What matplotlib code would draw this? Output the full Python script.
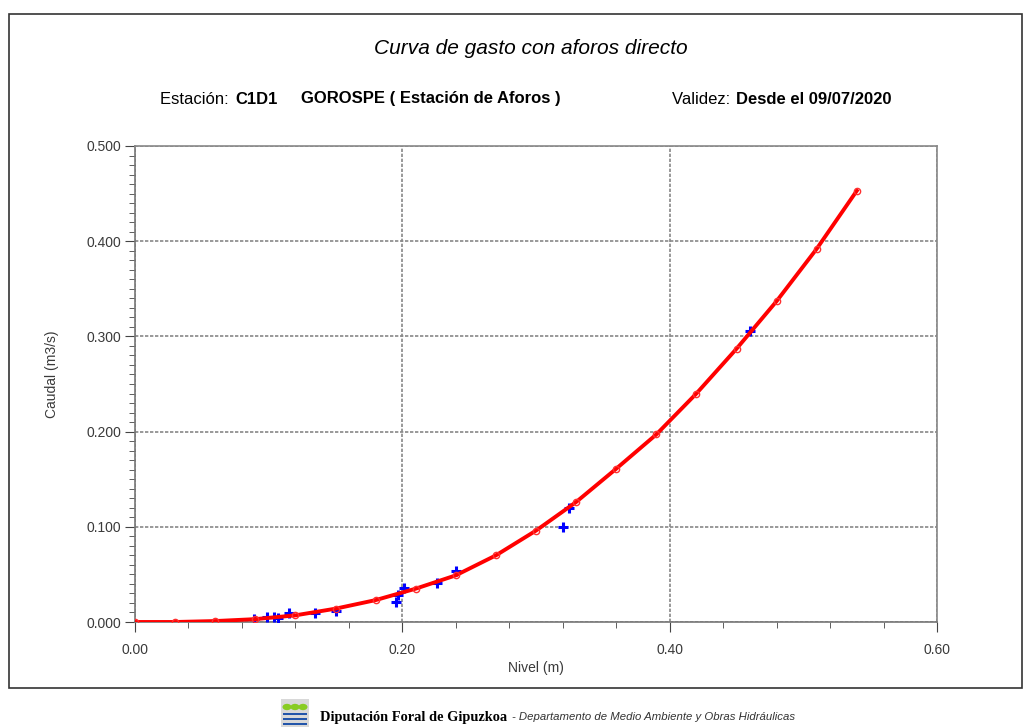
import matplotlib
matplotlib.use("Agg")
import matplotlib.pyplot as plt
from matplotlib.patches import Rectangle, Circle
from matplotlib.ticker import MultipleLocator, FormatStrFormatter

plt.rcParams['font.family'] = ['Liberation Sans', 'DejaVu Sans']

# curva de gasto (nivel m, caudal m3/s)
nivel_curva = [0.00, 0.03, 0.06, 0.09, 0.12, 0.15, 0.18, 0.21, 0.24, 0.27,
               0.30, 0.33, 0.36, 0.39, 0.42, 0.45, 0.48, 0.51, 0.54]
caudal_curva = [0.000, 0.000, 0.001, 0.003, 0.007, 0.014, 0.023, 0.035, 0.049, 0.070,
                0.096, 0.126, 0.161, 0.197, 0.240, 0.287, 0.337, 0.392, 0.453]

# aforos directos
nivel_aforo = [0.089, 0.099, 0.104, 0.107, 0.115, 0.135, 0.150, 0.195, 0.197,
               0.201, 0.226, 0.240, 0.320, 0.325, 0.460]
caudal_aforo = [0.003, 0.005, 0.005, 0.004, 0.009, 0.009, 0.012, 0.021, 0.028,
                0.036, 0.041, 0.054, 0.100, 0.120, 0.306]

fig = plt.figure(figsize=(10.3, 7.28), dpi=100)

# marco exterior
fig.add_artist(Rectangle((9/1030, 1-688/728), (1022-9)/1030, (688-14)/728,
                         transform=fig.transFigure, fill=False, edgecolor='#333333', lw=1.2))

ax = fig.add_axes([135/1030, 1-622/728, (937-135)/1030, (622-146)/728])

ax.plot(nivel_aforo, caudal_aforo, linestyle='none', marker='+', color='#0000ff',
        markersize=7.5, markeredgewidth=2.2, zorder=3)
ax.plot(nivel_curva, caudal_curva, color='#ff0000', lw=2.8, marker='o', markersize=4.5,
        markerfacecolor='none', markeredgecolor='#ff3030', markeredgewidth=1, zorder=4)

ax.set_xlim(0, 0.6)
ax.set_ylim(0, 0.5)
ax.xaxis.set_major_locator(MultipleLocator(0.2))
ax.xaxis.set_minor_locator(MultipleLocator(0.04))
ax.yaxis.set_major_locator(MultipleLocator(0.1))
ax.yaxis.set_minor_locator(MultipleLocator(0.01))
ax.xaxis.set_major_formatter(FormatStrFormatter('%.2f'))
ax.yaxis.set_major_formatter(FormatStrFormatter('%.3f'))

ax.grid(True, which='major', color='#888888', linestyle=(0, (2, 1)), lw=1.2)
for s in ['top', 'right']:
    ax.spines[s].set_color('#888888')
    ax.spines[s].set_linestyle((0, (2, 1)))
    ax.spines[s].set_linewidth(1.2)
for s in ['left', 'bottom']:
    ax.spines[s].set_color('#777777')
    ax.spines[s].set_linewidth(1.2)

ax.tick_params(which='major', direction='out', length=7, color='#444444',
               labelsize=10, labelcolor='#3a3a3a')
ax.tick_params(which='minor', direction='out', length=4, color='#444444')
ax.tick_params(axis='x', which='major', pad=8)
ax.tick_params(axis='y', which='major', pad=3)

ax.set_xlabel('Nivel (m)', fontsize=10, color='#3a3a3a', labelpad=3)
ax.set_ylabel('Caudal (m3/s)', fontsize=10, color='#3a3a3a')
ax.yaxis.set_label_coords(-0.095, 0.52)

# titulos
fig.text(531/1030, 1-49/728, 'Curva de gasto con aforos directo', ha='center', va='center',
         fontsize=15, style='italic')
fig.text(160/1030, 1-99/728, 'Estación: ', ha='left', va='center', fontsize=12)
fig.text(235/1030, 1-99/728, 'C1D1', ha='left', va='center', fontsize=12, weight='bold')
fig.text(301/1030, 1-99/728, 'GOROSPE ( Estación de Aforos )', ha='left', va='center',
         fontsize=12, weight='bold')
fig.text(672/1030, 1-99/728, 'Validez: ', ha='left', va='center', fontsize=12)
fig.text(736/1030, 1-99/728, 'Desde el 09/07/2020', ha='left', va='center', fontsize=12,
         weight='bold')

# pie con logo
fig.add_artist(Rectangle((281/1030, 1-727/728), 28/1030, 28/728, transform=fig.transFigure,
                         facecolor='#d8d8d8', edgecolor='none'))
for cx in [287, 295, 303]:
    fig.add_artist(Circle((cx/1030, 1-707/728), 4.5/1030, transform=fig.transFigure,
                          facecolor='#88cc22', edgecolor='none'))
for yy in [715, 720, 725]:
    fig.add_artist(Rectangle((283/1030, 1-yy/728), 24/1030, 1.8/728, transform=fig.transFigure,
                             facecolor='#2255aa', edgecolor='none'))
fig.text(320/1030, 1-717/728, 'Diputación Foral de Gipuzkoa', ha='left', va='center',
         fontsize=10.4, family=['Liberation Serif', 'DejaVu Serif'], weight='bold')
fig.text(512/1030, 1-717/728, '- Departamento de Medio Ambiente y Obras Hidráulicas',
         ha='left', va='center', fontsize=8.2, style='italic', color='#333333')

fig.savefig('out.png', dpi=100)
